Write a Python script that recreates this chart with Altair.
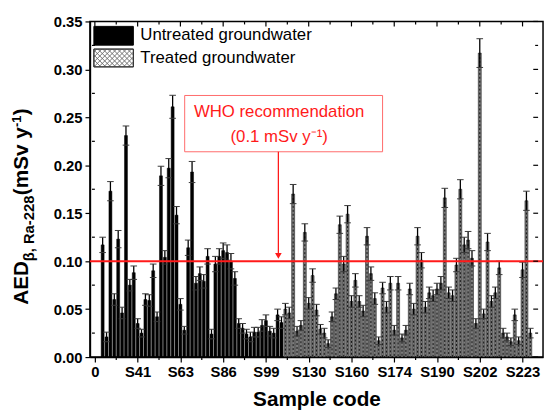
import altair as alt
import pandas as pd

# ---------------- data ----------------
values = [
    0.117, 0.021, 0.173, 0.060, 0.123, 0.046, 0.231, 0.075, 0.088, 0.035,
    0.025, 0.060, 0.059, 0.090, 0.042, 0.189, 0.104, 0.197, 0.261, 0.148,
    0.055, 0.028, 0.114, 0.193, 0.077, 0.087, 0.079, 0.105, 0.024, 0.097,
    0.105, 0.111, 0.109, 0.100, 0.082, 0.035, 0.030, 0.024, 0.021, 0.026,
    0.026, 0.033, 0.038, 0.027, 0.025, 0.044, 0.036, 0.050, 0.046, 0.170,
    0.027, 0.033, 0.130, 0.056, 0.085, 0.049, 0.029, 0.025, 0.014, 0.042,
    0.066, 0.138, 0.097, 0.149, 0.058, 0.080, 0.058, 0.048, 0.126, 0.087,
    0.061, 0.017, 0.072, 0.052, 0.077, 0.028, 0.077, 0.020, 0.028, 0.071,
    0.050, 0.126, 0.101, 0.052, 0.067, 0.064, 0.071, 0.077, 0.166, 0.067,
    0.064, 0.096, 0.175, 0.117, 0.122, 0.103, 0.035, 0.317, 0.045, 0.120,
    0.058, 0.067, 0.093, 0.025, 0.021, 0.016, 0.044, 0.017, 0.091, 0.163,
    0.025,
]
errors = [
    0.008, 0.005, 0.010, 0.006, 0.009, 0.006, 0.010, 0.006, 0.007, 0.005,
    0.004, 0.006, 0.006, 0.007, 0.005, 0.010, 0.007, 0.010, 0.012, 0.009,
    0.006, 0.004, 0.008, 0.011, 0.007, 0.007, 0.007, 0.008, 0.005, 0.008,
    0.008, 0.008, 0.008, 0.008, 0.007, 0.005, 0.005, 0.005, 0.005, 0.005,
    0.005, 0.006, 0.006, 0.005, 0.005, 0.006, 0.006, 0.006, 0.006, 0.010,
    0.005, 0.005, 0.009, 0.006, 0.007, 0.006, 0.005, 0.005, 0.004, 0.005,
    0.006, 0.009, 0.008, 0.009, 0.006, 0.007, 0.006, 0.006, 0.009, 0.007,
    0.006, 0.004, 0.006, 0.006, 0.007, 0.005, 0.007, 0.004, 0.005, 0.006,
    0.006, 0.009, 0.008, 0.006, 0.006, 0.006, 0.006, 0.007, 0.010, 0.006,
    0.006, 0.007, 0.010, 0.008, 0.009, 0.008, 0.005, 0.015, 0.005, 0.009,
    0.006, 0.006, 0.007, 0.005, 0.004, 0.004, 0.006, 0.004, 0.008, 0.010,
    0.005,
]
n_untreated = 47
series_names = ["Untreated groundwater", "Treated groundwater"]
tick_positions = [0, 11, 22, 33, 44, 55, 66, 77, 88, 99, 110]
tick_labels = ["0", "S41", "S63", "S86", "S99", "S130", "S160", "S174", "S190", "S202", "S223"]
y_ticks = [0.0, 0.05, 0.10, 0.15, 0.20, 0.25, 0.30, 0.35]
who_limit = 0.1

# ---------------- tables ----------------
groups = [series_names[0] if i < n_untreated else series_names[1] for i in range(len(values))]
df = pd.DataFrame({"pos": [i + 2 for i in range(len(values))], "val": values,
                   "err": errors, "group": groups})
df["lo"] = df["val"] - df["err"]
df["hi"] = df["val"] + df["err"]
df["xl"] = df["pos"] - 0.85
df["xr"] = df["pos"] + 0.85
df["zero"] = 0.0

FONT = "Liberation Sans"
RED = "#ff1a1a"
XMAX = 114
xscale = alt.Scale(domain=[0, XMAX], nice=False, zero=False)
yscale = alt.Scale(domain=[0, 0.35], nice=False)
label_expr = "[" + ",".join("'%s'" % l for l in tick_labels) + "][round(datum.value/11)]"

base = alt.Chart(df)

bars = base.mark_bar(size=3, stroke="black", strokeWidth=0.5).encode(
    x=alt.X("pos:Q", scale=xscale,
            axis=alt.Axis(values=tick_positions, labelExpr=label_expr, title="Sample code",
                          titlePadding=9, labelPadding=3, tickSize=5, labelFontSize=15,
                          titleFontSize=21)),
    y=alt.Y("val:Q", scale=yscale,
            axis=alt.Axis(values=y_ticks, format=".2f", title=None, tickSize=5,
                          labelPadding=3, labelFontSize=15)),
    y2="zero:Q",
    fill=alt.Fill("group:N", scale=alt.Scale(domain=series_names, range=["#000000", "#7c7c7c"]),
                  legend=None),
)

center_dash = base.transform_filter(
    alt.datum.group == series_names[1]
).mark_rule(strokeDash=[2, 2], color="#151515", strokeWidth=1).encode(
    x="pos:Q", y="val:Q", y2="zero:Q")

err_line = base.mark_rule(color="black", strokeWidth=1.3).encode(x="pos:Q", y="lo:Q", y2="hi:Q")
cap_hi = base.mark_rule(color="#3a3a3a", strokeWidth=1).encode(x="xl:Q", x2="xr:Q", y="hi:Q")
cap_lo = base.mark_rule(color="#3a3a3a", strokeWidth=1).encode(x="xl:Q", x2="xr:Q", y="lo:Q")

who_line = alt.Chart(pd.DataFrame({"y": [who_limit]})).mark_rule(color=RED, strokeWidth=2).encode(
    y="y:Q")

# annotation box, text and arrow (data coordinates)
box = alt.Chart(pd.DataFrame({"x": [23.1], "x2": [74.0], "y": [0.2728], "y2": [0.2141]})).mark_rect(
    fill="white", stroke="#ff6a6a", strokeWidth=1).encode(x="x:Q", x2="x2:Q", y="y:Q", y2="y2:Q")
ann_text = alt.Chart(pd.DataFrame({
    "x": [47.4, 47.4], "y": [0.2560, 0.2290],
    "t": ["WHO recommendation", "(0.1 mSv y\u207b\u00b9)"]})).mark_text(
    font=FONT, fontSize=17, color=RED, baseline="middle", align="center").encode(
    x="x:Q", y="y:Q", text="t:N")
arrow_line = alt.Chart(pd.DataFrame({"x": [47.2], "y": [0.2141], "y2": [0.107]})).mark_rule(
    color=RED, strokeWidth=1.3).encode(x="x:Q", y="y:Q", y2="y2:Q")
arrow_head = alt.Chart(pd.DataFrame({"x": [47.2], "y": [0.1055]})).mark_point(
    shape="triangle-down", filled=True, color=RED, size=45, opacity=1).encode(x="x:Q", y="y:Q")

# frame ticks (top / right inward, minor outward on bottom / left)
x_all = [k * 5.5 for k in range(21)]
y_all = [k * 0.025 for k in range(15)]
top_t = pd.DataFrame({"x": x_all, "y": 0.35,
                      "y2": [0.35 - (0.0052 if k % 2 == 0 else 0.0031) for k in range(21)]})
right_t = pd.DataFrame({"y": y_all, "x": XMAX,
                        "x2": [XMAX - (1.24 if k % 2 == 0 else 0.75) for k in range(15)]})
bot_m = pd.DataFrame({"x": x_all[1::2], "y": 0.0, "y2": -0.0031})
left_m = pd.DataFrame({"y": y_all[1::2], "x": 0.0, "x2": -0.75})
tick_layers = [
    alt.Chart(top_t).mark_rule(color="black", strokeWidth=1.2).encode(x="x:Q", y="y:Q", y2="y2:Q"),
    alt.Chart(bot_m).mark_rule(color="black", strokeWidth=1.2).encode(x="x:Q", y="y:Q", y2="y2:Q"),
    alt.Chart(right_t).mark_rule(color="black", strokeWidth=1.2).encode(y="y:Q", x="x:Q", x2="x2:Q"),
    alt.Chart(left_m).mark_rule(color="black", strokeWidth=1.2).encode(y="y:Q", x="x:Q", x2="x2:Q"),
]

# legend (pixel positions inside the plot)
one = pd.DataFrame({"a": [0]})
hx0, hx1, hy0, hy1 = 4, 44, 28, 46
hatch = []
for k in range(-60, 100, 5):
    lo, hi = max(hx0, hy0 + k), min(hx1, hy1 + k)          # "\" lines: y = x - k
    if lo < hi:
        hatch.append({"x": lo, "y": lo - k, "x2": hi, "y2": hi - k})
    lo, hi = max(hx0, k - hy1), min(hx1, k - hy0)          # "/" lines: y = k - x
    if lo < hi:
        hatch.append({"x": lo, "y": k - lo, "x2": hi, "y2": k - hi})
hatch_df = pd.DataFrame(hatch)

leg = [
    alt.Chart(one).mark_rect(fill="black", stroke="black", strokeWidth=1).encode(
        x=alt.value(4), x2=alt.value(44), y=alt.value(5), y2=alt.value(24)),
    alt.Chart(one).mark_rect(fill="white", stroke="#333333", strokeWidth=1).encode(
        x=alt.value(hx0), x2=alt.value(hx1), y=alt.value(hy0), y2=alt.value(hy1)),
    alt.Chart(hatch_df).mark_rule(color="#666666", strokeWidth=0.9).encode(
        x=alt.X("x:Q", scale=None), x2="x2:Q", y=alt.Y("y:Q", scale=None), y2="y2:Q"),
    alt.Chart(one).mark_rect(fill=None, stroke="#333333", strokeWidth=1).encode(
        x=alt.value(hx0), x2=alt.value(hx1), y=alt.value(hy0), y2=alt.value(hy1)),
    alt.Chart(one).mark_text(font=FONT, fontSize=17, align="left", baseline="middle",
                             text=series_names[0]).encode(x=alt.value(51), y=alt.value(14)),
    alt.Chart(one).mark_text(font=FONT, fontSize=17, align="left", baseline="middle",
                             text=series_names[1]).encode(x=alt.value(51), y=alt.value(37)),
]

# y-axis title with subscript / superscript
ytitle = [
    alt.Chart(one).mark_text(font=FONT, fontSize=21, fontWeight="bold", angle=270, align="left",
                             baseline="middle", text="AED").encode(x=alt.value(-69), y=alt.value(287)),
    alt.Chart(one).mark_text(font=FONT, fontSize=15, fontWeight="bold", angle=270, align="left",
                             baseline="middle", text="\u03b2, Ra-228").encode(x=alt.value(-62), y=alt.value(243)),
    alt.Chart(one).mark_text(font=FONT, fontSize=21, fontWeight="bold", angle=270, align="left",
                             baseline="middle", text="(mSv y").encode(x=alt.value(-69), y=alt.value(176)),
    alt.Chart(one).mark_text(font=FONT, fontSize=13, fontWeight="bold", angle=270, align="left",
                             baseline="middle", text="-1").encode(x=alt.value(-74), y=alt.value(107)),
    alt.Chart(one).mark_text(font=FONT, fontSize=21, fontWeight="bold", angle=270, align="left",
                             baseline="middle", text=")").encode(x=alt.value(-69), y=alt.value(95)),
]

chart = alt.layer(
    bars, center_dash, err_line, cap_hi, cap_lo, who_line, box, ann_text, arrow_line, arrow_head,
    *tick_layers, *leg, *ytitle
).properties(
    width=459, height=340,
    autosize=alt.AutoSizeParams(type="none"),
    padding={"left": 83, "top": 11, "right": 2, "bottom": 52},
).configure(font=FONT).configure_axis(
    labelFont=FONT, titleFont=FONT, labelFontWeight="bold", titleFontWeight="bold",
    labelColor="black", titleColor="black", tickColor="black", domainColor="black",
    tickWidth=1.2, domainWidth=1.5, grid=False,
).configure_view(stroke="black", strokeWidth=1.5)

chart.save("out.html", embed_options={"renderer": "svg", "actions": False})
